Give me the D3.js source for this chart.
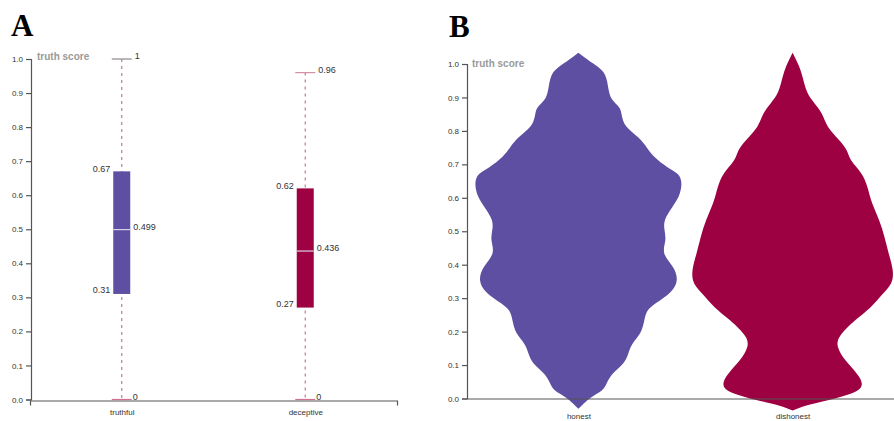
<!DOCTYPE html>
<html>
<head>
<meta charset="utf-8">
<script src="https://cdn.jsdelivr.net/npm/d3@7"></script>
<style>
  body { margin: 0; background: #fff; }
  text { font-family: "Liberation Sans", Arial, sans-serif; }
</style>
</head>
<body>
<div id="chart"></div>
<script>
// ---- data ----
var yTicks = [0, 0.1, 0.2, 0.3, 0.4, 0.5, 0.6, 0.7, 0.8, 0.9, 1.0];

// panel A: box plot summary
var boxGroups = ["truthful", "deceptive"];
var boxMin    = [0, 0];
var boxQ1     = [0.31, 0.27];
var boxMedian = [0.499, 0.436];
var boxQ3     = [0.67, 0.62];
var boxMax    = [1, 0.96];
var boxColors = ["#5e4fa2", "#9e0142"];

// panel B: violin density (score, relative density)
var violinGroups = ["honest", "dishonest"];
var honestScore = [-0.031, -0.016, 0.004, 0.024, 0.044, 0.074, 0.104, 0.134, 0.164, 0.194,
                   0.234, 0.263, 0.283, 0.318, 0.353, 0.393, 0.433, 0.473, 0.503, 0.533,
                   0.573, 0.603, 0.643, 0.672, 0.69, 0.722, 0.752, 0.78, 0.812, 0.85,
                   0.87, 0.892, 0.92, 0.972, 0.995, 1.02, 1.034];
var honestDensity = [0, 0.05, 0.12, 0.25, 0.28, 0.33, 0.46, 0.50, 0.53, 0.63,
                     0.66, 0.68, 0.76, 0.94, 1.00, 0.96, 0.83, 0.88, 0.86, 0.85,
                     0.94, 1.01, 1.04, 1.01, 0.89, 0.75, 0.68, 0.61, 0.46, 0.43,
                     0.42, 0.33, 0.30, 0.28, 0.18, 0.06, 0];
var dishonestScore = [-0.036, -0.021, -0.006, 0.019, 0.044, 0.074, 0.114, 0.154, 0.184, 0.234,
                      0.273, 0.313, 0.343, 0.383, 0.433, 0.483, 0.533, 0.583, 0.633, 0.673,
                      0.712, 0.742, 0.772, 0.812, 0.852, 0.882, 0.912, 0.962, 0.992, 1.034];
var dishonestDensity = [0, 0.12, 0.35, 0.66, 0.71, 0.65, 0.52, 0.44, 0.45, 0.62,
                        0.79, 0.90, 1.00, 1.01, 0.96, 0.92, 0.87, 0.79, 0.75, 0.70,
                        0.57, 0.55, 0.47, 0.34, 0.30, 0.22, 0.14, 0.10, 0.07, 0];
var violinColors = ["#5e4fa2", "#9e0142"];

function init() {
    var W = 894, H = 421;
    var svg = d3.select("#chart").append("svg")
        .attr("width", W).attr("height", H);

    // panel letters
    svg.append("text").attr("x", 11).attr("y", 36).text("A")
        .style("font-family", "'Liberation Serif', 'Times New Roman', serif")
        .style("font-weight", "bold").style("font-size", "31px");
    svg.append("text").attr("x", 449).attr("y", 37).text("B")
        .style("font-family", "'Liberation Serif', 'Times New Roman', serif")
        .style("font-weight", "bold").style("font-size", "31px");

    //---------- Panel A: box plot ----------
    var gA = svg.append("g");
    var yA = d3.scaleLinear().domain([0, 1]).range([399.5, 59]);
    var xA = d3.scalePoint().domain(boxGroups).range([30, 397]).padding(0.5);

    var axA = gA.append("g").attr("transform", "translate(31,0)")
        .call(d3.axisLeft(yA).tickValues(yTicks).tickFormat(d3.format(".1f")).tickSize(5));
    styleAxis(axA);
    var xaA = gA.append("g").attr("transform", "translate(0," + (yA(0) + 1) + ")")
        .call(d3.axisBottom(xA).tickSizeInner(0).tickSizeOuter(5).tickPadding(9));
    styleAxis(xaA);

    gA.append("text").attr("x", 37).attr("y", 60).text("truth score")
        .style("font-size", "10px").style("font-weight", "bold").style("fill", "#9a9a9a");

    var bw = 17;
    boxGroups.forEach(function(g, i) {
        var cx = xA(g);
        // whisker
        gA.append("line").attr("x1", cx).attr("x2", cx)
            .attr("y1", yA(boxMax[i])).attr("y2", yA(boxMin[i]))
            .attr("stroke", "#c27a96").attr("stroke-width", 1.2)
            .attr("stroke-dasharray", "3,4");
        // caps
        gA.append("line").attr("x1", cx - 10).attr("x2", cx + 10)
            .attr("y1", yA(boxMax[i])).attr("y2", yA(boxMax[i]))
            .attr("stroke", i === 0 ? "#8a8a8a" : "#d48ea8").attr("stroke-width", 1.2);
        gA.append("line").attr("x1", cx - 10).attr("x2", cx + 10)
            .attr("y1", yA(boxMin[i])).attr("y2", yA(boxMin[i]))
            .attr("stroke", "#d0708f").attr("stroke-width", 1.2);
        // box
        gA.append("rect").attr("x", cx - bw / 2).attr("width", bw)
            .attr("y", yA(boxQ3[i])).attr("height", yA(boxQ1[i]) - yA(boxQ3[i]))
            .attr("fill", boxColors[i]);
        gA.append("line").attr("x1", cx - bw / 2).attr("x2", cx + bw / 2)
            .attr("y1", yA(boxMedian[i])).attr("y2", yA(boxMedian[i]))
            .attr("stroke", "#d9d3e8").attr("stroke-width", 1.2);
        // labels
        label(gA, cx - bw / 2 - 3, yA(boxQ3[i]) - 2, boxQ3[i], "end");
        label(gA, cx - bw / 2 - 3, yA(boxQ1[i]) - 3, boxQ1[i], "end");
        label(gA, cx + bw / 2 + 3, yA(boxMedian[i]) - 2, boxMedian[i], "start");
        label(gA, cx + 13, yA(boxMax[i]) - 2, boxMax[i], "start");
        label(gA, cx + 11, yA(boxMin[i]) - 2, boxMin[i], "start");
    });

    //---------- Panel B: violin ----------
    var gB = svg.append("g");
    var yB = d3.scaleLinear().domain([0, 1]).range([398.5, 64]);
    var xB = d3.scalePoint().domain(violinGroups).range([467, 904]).padding(0.52);
    var wB = d3.scaleLinear().domain([0, 1]).range([0, 100]);

    var scores = [honestScore, dishonestScore];
    var dens = [honestDensity, dishonestDensity];
    violinGroups.forEach(function(g, i) {
        var cx = xB(g);
        var pts = scores[i].map(function(s, j) { return { s: s, d: dens[i][j] }; });
        var area = d3.area()
            .y(function(d) { return yB(d.s); })
            .x0(function(d) { return cx - wB(d.d); })
            .x1(function(d) { return cx + wB(d.d); })
            .curve(d3.curveBasis);
        gB.append("path").datum(pts).attr("d", area).attr("fill", violinColors[i]);
    });

    var axB = gB.append("g").attr("transform", "translate(467,0)")
        .call(d3.axisLeft(yB).tickValues(yTicks).tickFormat(d3.format(".1f")).tickSize(5));
    styleAxis(axB);
    var xaB = gB.append("g").attr("transform", "translate(0," + yB(0) + ")")
        .call(d3.axisBottom(xB).tickSizeInner(0).tickSizeOuter(0).tickPadding(15));
    styleAxis(xaB);

    gB.append("text").attr("x", 472).attr("y", 67).text("truth score")
        .style("font-size", "10px").style("font-weight", "bold").style("fill", "#9a9a9a");

    function label(g, x, y, v, anchor) {
        g.append("text").attr("x", x).attr("y", y).text(v)
            .attr("text-anchor", anchor).attr("dominant-baseline", "middle")
            .style("font-size", "9px").style("fill", "#333");
    }
    function styleAxis(a) {
        a.select(".domain").attr("stroke", "#555").attr("stroke-width", 1.2);
        a.selectAll(".tick line").attr("stroke", "#555").attr("stroke-width", 1.2);
        a.selectAll(".tick text").style("font-family", "'Liberation Sans', Arial, sans-serif")
            .style("font-size", "8px").style("fill", "#333");
    }
}
window.onload = init;
</script>
</body>
</html>
